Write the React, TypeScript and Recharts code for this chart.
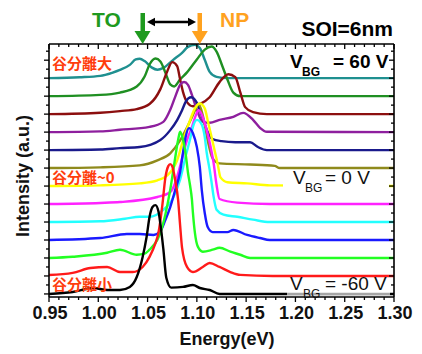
import React from "react";
import { LineChart, Line, XAxis, YAxis } from "recharts";

type Pt = [number, number];

// Relative PL intensity (a.u.) above each curve's own baseline, [energy eV, intensity]
const teal: Pt[] = [[0.95,0],[0.981,0.05],[1.002,0.13],[1.014,0.3],[1.022,0.46],[1.032,0.74],[1.038,1.04],[1.042,1.08],[1.047,0.95],[1.054,0.6],[1.060,0.47],[1.066,0.57],[1.076,1.02],[1.085,1.41],[1.091,1.74],[1.098,1.85],[1.103,1.68],[1.108,1.02],[1.113,0.35],[1.120,0.07],[1.131,0],[1.30,0]];
const green: Pt[] = [[0.95,0],[1.002,0.07],[1.022,0.2],[1.039,0.54],[1.047,1.09],[1.052,1.76],[1.058,2.09],[1.063,1.93],[1.068,1.32],[1.073,0.65],[1.077,0.54],[1.083,0.93],[1.090,1.32],[1.100,2.04],[1.108,2.59],[1.115,2.76],[1.120,2.48],[1.126,1.65],[1.131,0.93],[1.137,0.2],[1.144,0],[1.30,0]];
const darkRed: Pt[] = [[0.95,0],[1.002,0.08],[1.022,0.17],[1.039,0.28],[1.052,0.56],[1.063,1.39],[1.070,2.39],[1.075,2.89],[1.080,2.67],[1.083,1.94],[1.086,1.22],[1.090,0.67],[1.096,0.44],[1.103,0.56],[1.113,0.94],[1.123,1.78],[1.132,2.22],[1.139,2.06],[1.144,1.22],[1.149,0.39],[1.157,0.11],[1.171,0],[1.30,0]];
const purple: Pt[] = [[0.95,0],[1.002,0.04],[1.022,0.13],[1.052,0.29],[1.066,0.57],[1.073,1.24],[1.078,1.96],[1.083,2.63],[1.087,2.79],[1.091,2.63],[1.095,2.07],[1.100,1.24],[1.106,0.57],[1.113,0.52],[1.123,0.68],[1.137,0.85],[1.147,1.07],[1.157,0.68],[1.164,0.24],[1.171,0.02],[1.30,0]];
const navy: Pt[] = [[0.95,0],[1.002,0.03],[1.022,0.11],[1.042,0.17],[1.063,0.56],[1.073,1.11],[1.080,1.67],[1.085,2.22],[1.089,2.72],[1.094,2.94],[1.099,2.72],[1.106,1.78],[1.111,1.0],[1.116,0.61],[1.125,0.5],[1.139,0.44],[1.154,0.44],[1.162,0.17],[1.171,0],[1.30,0]];
const olive: Pt[] = [[0.95,0],[1.002,0.04],[1.042,0.15],[1.060,0.43],[1.073,0.82],[1.083,1.54],[1.090,2.26],[1.095,2.82],[1.099,3.31],[1.102,3.54],[1.106,2.93],[1.111,1.54],[1.116,0.54],[1.123,0.26],[1.154,0.2],[1.179,0.12],[1.184,0],[1.30,0]];
const yellow: Pt[] = [[0.95,0],[1.002,0.04],[1.042,0.15],[1.060,0.32],[1.070,0.59],[1.080,1.43],[1.086,2.54],[1.093,3.65],[1.098,4.32],[1.103,4.59],[1.108,4.32],[1.111,3.65],[1.115,2.71],[1.118,1.98],[1.121,1.26],[1.124,0.48],[1.131,0.21],[1.151,0.15],[1.174,0.04],[1.30,0]];
const magenta: Pt[] = [[0.95,0],[1.002,0.06],[1.022,0.11],[1.060,0.39],[1.073,0.67],[1.078,1.17],[1.083,2.11],[1.090,3.56],[1.095,4.28],[1.099,4.94],[1.102,5.22],[1.106,4.83],[1.110,4.11],[1.114,3.17],[1.117,2.28],[1.120,1.06],[1.123,0.28],[1.141,0.08],[1.174,0],[1.30,0]];
const cyan: Pt[] = [[0.95,0],[1.002,0.04],[1.027,0.18],[1.042,0.29],[1.052,0.29],[1.066,0.68],[1.075,1.24],[1.083,2.35],[1.089,3.74],[1.093,4.57],[1.096,5.29],[1.100,5.68],[1.104,5.52],[1.108,4.74],[1.110,3.85],[1.113,2.91],[1.115,2.18],[1.117,1.41],[1.120,0.68],[1.127,0.41],[1.141,0.29],[1.157,0.13],[1.174,0],[1.30,0]];
const blue: Pt[] = [[0.95,0],[1.002,0.11],[1.029,0.33],[1.042,0.33],[1.056,0.28],[1.063,0.5],[1.068,1.11],[1.073,1.83],[1.078,2.78],[1.083,3.78],[1.086,4.89],[1.089,5.83],[1.092,6.22],[1.096,5.94],[1.100,5.17],[1.103,4.06],[1.105,2.78],[1.108,1.5],[1.111,0.72],[1.116,0.44],[1.131,0.44],[1.137,0.56],[1.151,0.28],[1.164,0.11],[1.174,0],[1.30,0]];
const lime: Pt[] = [[0.95,0],[0.974,0.07],[1.009,0.29],[1.022,0.46],[1.039,0.18],[1.047,0.24],[1.052,0.46],[1.060,1.02],[1.063,1.41],[1.068,2.41],[1.073,3.79],[1.078,5.57],[1.081,6.57],[1.083,7.02],[1.086,6.57],[1.089,5.63],[1.091,4.74],[1.093,4.07],[1.095,3.24],[1.096,2.52],[1.098,1.41],[1.101,0.63],[1.106,0.35],[1.116,0.46],[1.123,0.57],[1.134,0.35],[1.144,0.18],[1.154,0],[1.30,0]];
const red: Pt[] = [[0.95,0.05],[0.974,0.17],[0.992,0.44],[1.009,0.5],[1.022,0.22],[1.035,0.22],[1.045,0.5],[1.052,1.06],[1.058,1.83],[1.061,2.39],[1.065,3.94],[1.068,5.44],[1.071,6.11],[1.073,6.22],[1.075,6.11],[1.078,5.33],[1.081,4.22],[1.083,2.83],[1.085,1.56],[1.090,0.5],[1.096,0.22],[1.106,0.5],[1.113,0.72],[1.123,0.5],[1.134,0.22],[1.144,0.06],[1.177,0],[1.30,0]];
const black: Pt[] = [[0.95,0],[0.974,0.11],[0.995,0.33],[1.009,0.22],[1.022,0.22],[1.032,0.39],[1.039,0.94],[1.045,2.06],[1.049,3.17],[1.052,4.28],[1.055,4.83],[1.058,4.94],[1.061,4.6],[1.063,3.9],[1.066,2.5],[1.069,0.9],[1.074,0.35],[1.086,0.39],[1.096,0.5],[1.103,0.33],[1.113,0.22],[1.123,0],[1.30,0]];

// vertical stacking offsets (V_BG from +60 V at top to -60 V at bottom)
const offsets = [12, 11, 10, 9, 8, 7, 6, 5, 4, 3, 2, 1, 0];
const curves = [teal, green, darkRed, purple, navy, olive, yellow, magenta, cyan, blue, lime, red, black];
const curveNames = ["teal", "green", "darkRed", "purple", "navy", "olive", "yellow", "magenta", "cyan", "blue", "lime", "red", "black"];

const xMajorTicks = [0.95, 1.0, 1.05, 1.1, 1.15, 1.2, 1.25, 1.3];
const xTickLabels = ["0.95", "1.00", "1.05", "1.10", "1.15", "1.20", "1.25", "1.30"];
const xMinorTicks = [0.95,0.96,0.97,0.98,0.99,1.0,1.01,1.02,1.03,1.04,1.05,1.06,1.07,1.08,1.09,1.1,1.11,1.12,1.13,1.14,1.15,1.16,1.17,1.18,1.19,1.2,1.21,1.22,1.23,1.24,1.25,1.26,1.27,1.28,1.29,1.3];
const yTicks = [0,0.5,1,1.5,2,2.5,3,3.5,4,4.5,5,5.5,6,6.5,7,7.5,8,8.5,9,9.5,10,10.5,11,11.5,12,12.5,13,13.5];

const COLORS = ["#1f9090", "#1f8f22", "#8c0f0f", "#8e1f9e", "#1a1a8c", "#8f8a1c", "#ffff00", "#ff22ff", "#22ffff", "#1a1aff", "#22ff22", "#ff1a1a", "#000000"];

const FONT = "'Liberation Sans', Arial, sans-serif";
const CJK = "'Noto Sans CJK JP', 'Noto Sans CJK SC', sans-serif";

const seriesData = curves.map((c, i) => c.map(([e, v]) => ({ e, v: v + offsets[i] })));

const isMajor = (v: number) => xMajorTicks.findIndex((m) => Math.abs(m - v) < 1e-6);

const BottomTick = (props: any) => {
  const { x, y, payload } = props;
  const idx = isMajor(payload.value);
  return (
    <g>
      <line x1={x} x2={x} y1={y} y2={y + (idx >= 0 ? 5 : 3)} stroke="#000" strokeWidth={1.3} />
      {idx >= 0 && (
        <text x={x + 1} y={y + 22} textAnchor="middle" fontSize={18} fontWeight="bold" fontFamily={FONT} fill="#111">
          {xTickLabels[idx]}
        </text>
      )}
    </g>
  );
};

const TopTick = (props: any) => {
  const { x, y, payload } = props;
  const major = isMajor(payload.value) >= 0;
  return <line x1={x} x2={x} y1={y} y2={y + (major ? 5 : 3)} stroke="#000" strokeWidth={1.3} />;
};

const LeftTick = (props: any) => {
  const { x, y, payload } = props;
  const major = Number.isInteger(payload.value);
  return <line x1={x - (major ? 5 : 3)} x2={x} y1={y} y2={y} stroke="#000" strokeWidth={1.3} />;
};

const RightTick = (props: any) => {
  const { x, y, payload } = props;
  const major = Number.isInteger(payload.value);
  return <line x1={x - (major ? 5 : 3)} x2={x} y1={y} y2={y} stroke="#000" strokeWidth={1.3} />;
};

export default function App() {
  return (
    <div style={{ position: "absolute", left: 0, top: 0, width: 422, height: 354, background: "#fff" }}>
      <LineChart width={422} height={354} margin={{ top: 34, right: 18, bottom: 27, left: 39 }}>
        <XAxis
          xAxisId="bottom"
          dataKey="e"
          type="number"
          domain={[0.95, 1.3]}
          allowDataOverflow
          ticks={xMinorTicks}
          interval={0}
          height={30}
          tickSize={0}
          tickMargin={0}
          tickLine={false}
          axisLine={{ stroke: "#000", strokeWidth: 1.6 }}
          tick={BottomTick}
        />
        <XAxis
          xAxisId="top"
          orientation="top"
          dataKey="e"
          type="number"
          domain={[0.95, 1.3]}
          allowDataOverflow
          ticks={xMinorTicks}
          interval={0}
          height={10}
          tickSize={0}
          tickMargin={0}
          tickLine={false}
          axisLine={{ stroke: "#000", strokeWidth: 1.6 }}
          tick={TopTick}
        />
        <YAxis
          yAxisId="left"
          type="number"
          domain={[-0.17, 13.9]}
          allowDataOverflow
          ticks={yTicks}
          interval={0}
          width={10}
          tickSize={0}
          tickMargin={0}
          tickLine={false}
          axisLine={{ stroke: "#000", strokeWidth: 1.6 }}
          tick={LeftTick}
        />
        <YAxis
          yAxisId="right"
          orientation="right"
          type="number"
          domain={[-0.17, 13.9]}
          allowDataOverflow
          ticks={yTicks}
          interval={0}
          width={10}
          tickSize={0}
          tickMargin={0}
          tickLine={false}
          axisLine={{ stroke: "#000", strokeWidth: 1.6 }}
          tick={RightTick}
        />
        {seriesData.map((d, i) => (
          <Line
            key={curveNames[i]}
            name={curveNames[i]}
            xAxisId="bottom"
            yAxisId="left"
            data={d}
            dataKey="v"
            type="monotone"
            stroke={COLORS[i]}
            strokeWidth={2.4}
            dot={false}
            activeDot={false}
            isAnimationActive={false}
          />
        ))}
      </LineChart>
      <svg width={422} height={354} style={{ position: "absolute", left: 0, top: 0, pointerEvents: "none" }}>
        {/* label backgrounds */}
        <rect x={283} y={173} width={106} height={22} fill="#fff" />
        <rect x={287} y={278} width={103} height={17.5} fill="#fff" fillOpacity={0.65} />

        {/* arrows */}
        <rect x={140.5} y={13} width={4.5} height={20} fill="#1f9a1f" />
        <polygon points="134.5,31 150.5,31 142.7,44" fill="#1f9a1f" />
        <rect x={197.5} y={13} width={4.5} height={20} fill="#ffa21f" />
        <polygon points="191.8,31 207.8,31 199.8,44" fill="#ffa21f" />
        <line x1={152} x2={191} y1={22} y2={22} stroke="#000" strokeWidth={2.4} />
        <polygon points="147,22 155,17.8 155,26.2" fill="#000" />
        <polygon points="196,22 188,17.8 188,26.2" fill="#000" />

        {/* top labels */}
        <text x={92} y={27} fontSize={21} fontWeight="bold" fontFamily={FONT} fill="#1f9a1f">TO</text>
        <text x={220} y={27} fontSize={21} fontWeight="bold" fontFamily={FONT} fill="#ffa21f">NP</text>
        <text x={393} y={36} textAnchor="end" fontSize={21} fontWeight="bold" fontFamily={FONT} fill="#000">SOI=6nm</text>

        {/* V_BG labels */}
        <text x={290} y={68} fontSize={19} fontWeight="bold" fontFamily={FONT} fill="#000">V</text>
        <text x={302} y={76} fontSize={12} fontWeight="bold" fontFamily={FONT} fill="#000">BG</text>
        <text x={333} y={68} fontSize={19} fontWeight="bold" fontFamily={FONT} fill="#000">= 60 V</text>

        <text x={293} y={184} fontSize={19} fontFamily={FONT} fill="#111">V</text>
        <text x={305} y={192} fontSize={12} fontFamily={FONT} fill="#111">BG</text>
        <text x={325} y={184} fontSize={19} fontFamily={FONT} fill="#111">= 0 V</text>

        <text x={290} y={290} fontSize={19} fontFamily={FONT} fill="#111">V</text>
        <text x={303} y={298} fontSize={12} fontFamily={FONT} fill="#111">BG</text>
        <text x={325} y={290} fontSize={19} fontFamily={FONT} fill="#111">= -60 V</text>

        {/* valley splitting labels */}
        <text x={52} y={69} fontSize={15} fontWeight="bold" fontFamily={CJK} fill="#ff3d0d">谷分離大</text>
        <text x={52} y={183} fontSize={15} fontWeight="bold" fontFamily={CJK} fill="#ff3d0d">谷分離~0</text>
        <text x={52} y={290} fontSize={15} fontWeight="bold" fontFamily={CJK} fill="#ff3d0d">谷分離小</text>

        {/* axis titles */}
        <text transform="translate(29,176) rotate(-90)" textAnchor="middle" fontSize={18} fontWeight="bold" fontFamily={FONT} fill="#111">Intensity (a.u.)</text>
        <text x={227} y={345} textAnchor="middle" fontSize={18} fontWeight="bold" fontFamily={FONT} fill="#111">Energy(eV)</text>
      </svg>
    </div>
  );
}
